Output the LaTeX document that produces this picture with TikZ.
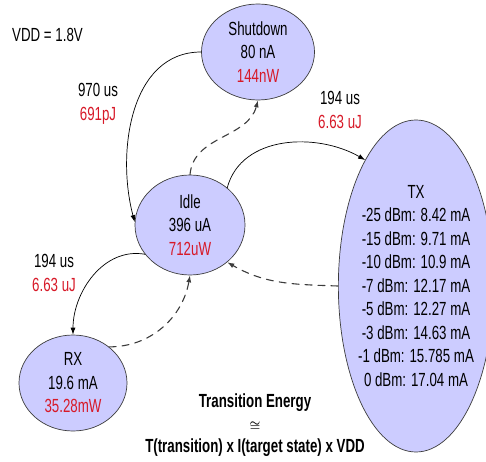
\documentclass[tikz,border=0pt]{standalone}
\usepackage{fontspec}
\setmainfont{Liberation Sans}[FakeStretch=0.7]
\usepackage{tikz}
\usetikzlibrary{arrows.meta,shapes.geometric}
\definecolor{statefill}{RGB}{204,204,255}
\definecolor{energyred}{RGB}{215,25,40}
\definecolor{edgegray}{RGB}{60,60,60}
\tikzset{state/.style={ellipse,draw=edgegray,line width=0.7pt,fill=statefill,inner sep=0pt,align=center},
  trans/.style={->,line width=0.7pt,black},
  back/.style={->,line width=1.1pt,edgegray,dash pattern=on 7pt off 6pt},
  cost/.style={inner sep=0pt,align=center}}

\begin{document}
\begin{tikzpicture}[line cap=round,line join=round,>={Latex[length=7pt,width=5pt]},x=1pt,y=1pt,font=\fontsize{19}{23.5}\selectfont]
\useasboundingbox (0,0) rectangle (486,461);
\node[state,minimum width=113pt,minimum height=96pt] (sd) at (258,409) {Shutdown\\80 nA\\\textcolor{energyred}{144nW}};
\node[state,minimum width=110pt,minimum height=100pt] (idle) at (190,236) {Idle\\396 uA\\\textcolor{energyred}{712uW}};
\node[state,minimum width=108pt,minimum height=96pt] (rx) at (73,78) {RX\\19.6 mA\\\textcolor{energyred}{35.28mW}};
\node[state,minimum width=146pt,minimum height=332pt,inner xsep=-3pt] (tx) at (416,175) {TX\\-25 dBm: 8.42 mA\\-15 dBm: 9.71 mA\\-10 dBm: 10.9 mA\\-7 dBm: 12.17 mA\\-5 dBm: 12.27 mA\\-3 dBm: 14.63 mA\\-1 dBm: 15.785 mA\\0 dBm: 17.04 mA};
\node[cost,anchor=west] (vdd) at (12,426) {VDD = 1.8V};
\node[cost] (tsd) at (98,357) {970 us\\\textcolor{energyred}{691pJ}};
\node[cost] (ttx) at (340,351) {194 us\\\textcolor{energyred}{6.63 uJ}};
\node[cost] (trx) at (54,188) {194 us\\\textcolor{energyred}{6.63 uJ}};
\node[cost,font=\fontsize{19}{22.5}\selectfont\bfseries] (energy) at (255,36) {Transition Energy\\{\fontsize{13}{13}\selectfont\boldmath$\cong$}\\T(transition) x I(target state) x VDD};
\draw[trans] (sd.west) to[out=180,in=105] (idle.177);
\draw[back] (idle.north) to[out=85,in=-105] (sd.south);
\draw[trans] (idle.45) to[out=75,in=150] (tx.112);
\draw[back] (tx.west) to[out=178,in=-30] (idle.-45);
\draw[trans] (idle.213) to[out=170,in=90] (rx.north);
\draw[back] (rx.45) to[out=0,in=-100] (idle.south);
\end{tikzpicture}
\end{document}
